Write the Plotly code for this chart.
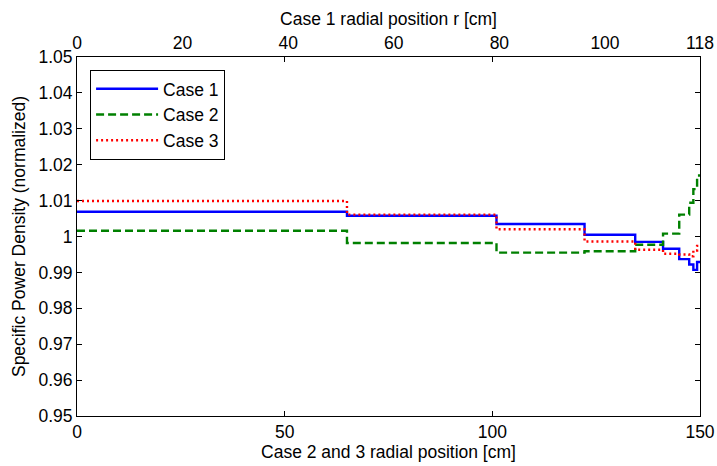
import plotly.graph_objects as go

# step boundaries (Case 2 and 3 radial position, cm)
edges = [0, 65, 101, 122.2, 134.4, 141.1, 145, 147.4, 148.4, 149.3, 150]
case1 = [1.0069, 1.0058, 1.0035, 1.0005, 0.9985, 0.9966, 0.9937, 0.9922, 0.9907, 0.9929]
case2 = [1.0016, 0.9982, 0.9955, 0.9959, 0.9977, 1.0008, 1.0061, 1.0094, 1.0132, 1.0170]
case3 = [1.0099, 1.0061, 1.0020, 0.9986, 0.9963, 0.9952, 0.9950, 0.9945, 0.9961, 0.9974]

y_ticks = [0.95, 0.96, 0.97, 0.98, 0.99, 1.0, 1.01, 1.02, 1.03, 1.04, 1.05]
y_labels = ["0.95", "0.96", "0.97", "0.98", "0.99", "1", "1.01", "1.02", "1.03", "1.04", "1.05"]
bottom_ticks = [0, 50, 100, 150]
top_ticks = [0, 20, 40, 60, 80, 100, 118]

FONT = "Liberation Sans, Arial, sans-serif"
FS = 17.5

def stepped(vals):
    return list(vals) + [vals[-1]]

fig = go.Figure()
fig.add_trace(go.Scatter(x=edges, y=stepped(case1), name="Case 1", mode="lines",
                         line=dict(color="#0000ff", width=2.4, shape="hv")))
fig.add_trace(go.Scatter(x=edges, y=stepped(case2), name="Case 2", mode="lines",
                         line=dict(color="#008000", width=2.4, shape="hv", dash="8px,4px")))
fig.add_trace(go.Scatter(x=edges, y=stepped(case3), name="Case 3", mode="lines",
                         line=dict(color="#ff0000", width=2.4, shape="hv", dash="2px,3px")))
# invisible trace to activate top axis
fig.add_trace(go.Scatter(x=[0, 118], y=[1.0, 1.0], xaxis="x2", mode="lines",
                         line=dict(color="rgba(0,0,0,0)"), showlegend=False, hoverinfo="skip"))

axis_common = dict(showgrid=False, zeroline=False, showline=True, linecolor="black",
                   linewidth=1, automargin=False,
                   tickfont=dict(family=FONT, size=FS, color="black"))

fig.update_layout(
    width=717, height=466,
    margin=dict(l=77, r=17, t=57, b=50),
    paper_bgcolor="white", plot_bgcolor="white",
    font=dict(family=FONT, size=FS, color="black"),
    xaxis=dict(range=[0, 150], tickvals=bottom_ticks, ticks="inside", ticklen=5,
               tickcolor="black", mirror="ticks",
               title=dict(text="Case 2 and 3 radial position [cm]", font=dict(family=FONT, size=FS), standoff=2),
               **axis_common),
    xaxis2=dict(range=[0, 118], overlaying="x", side="top", tickvals=top_ticks, ticks="",
                title=dict(text="Case 1 radial position r [cm]", font=dict(family=FONT, size=FS), standoff=2),
                **axis_common),
    yaxis=dict(range=[0.95, 1.05], tickvals=y_ticks, ticktext=y_labels, ticks="inside", ticklen=5,
               tickcolor="black", mirror="ticks",
               title=dict(text="Specific Power Density (normalized)", font=dict(family=FONT, size=FS), standoff=8),
               **axis_common),
    legend=dict(x=0.021, y=0.964, xanchor="left", yanchor="top", bgcolor="white",
                bordercolor="black", borderwidth=1, font=dict(family=FONT, size=FS),
                tracegroupgap=0, itemwidth=62),
    showlegend=True,
)

fig.write_html("out.html")
